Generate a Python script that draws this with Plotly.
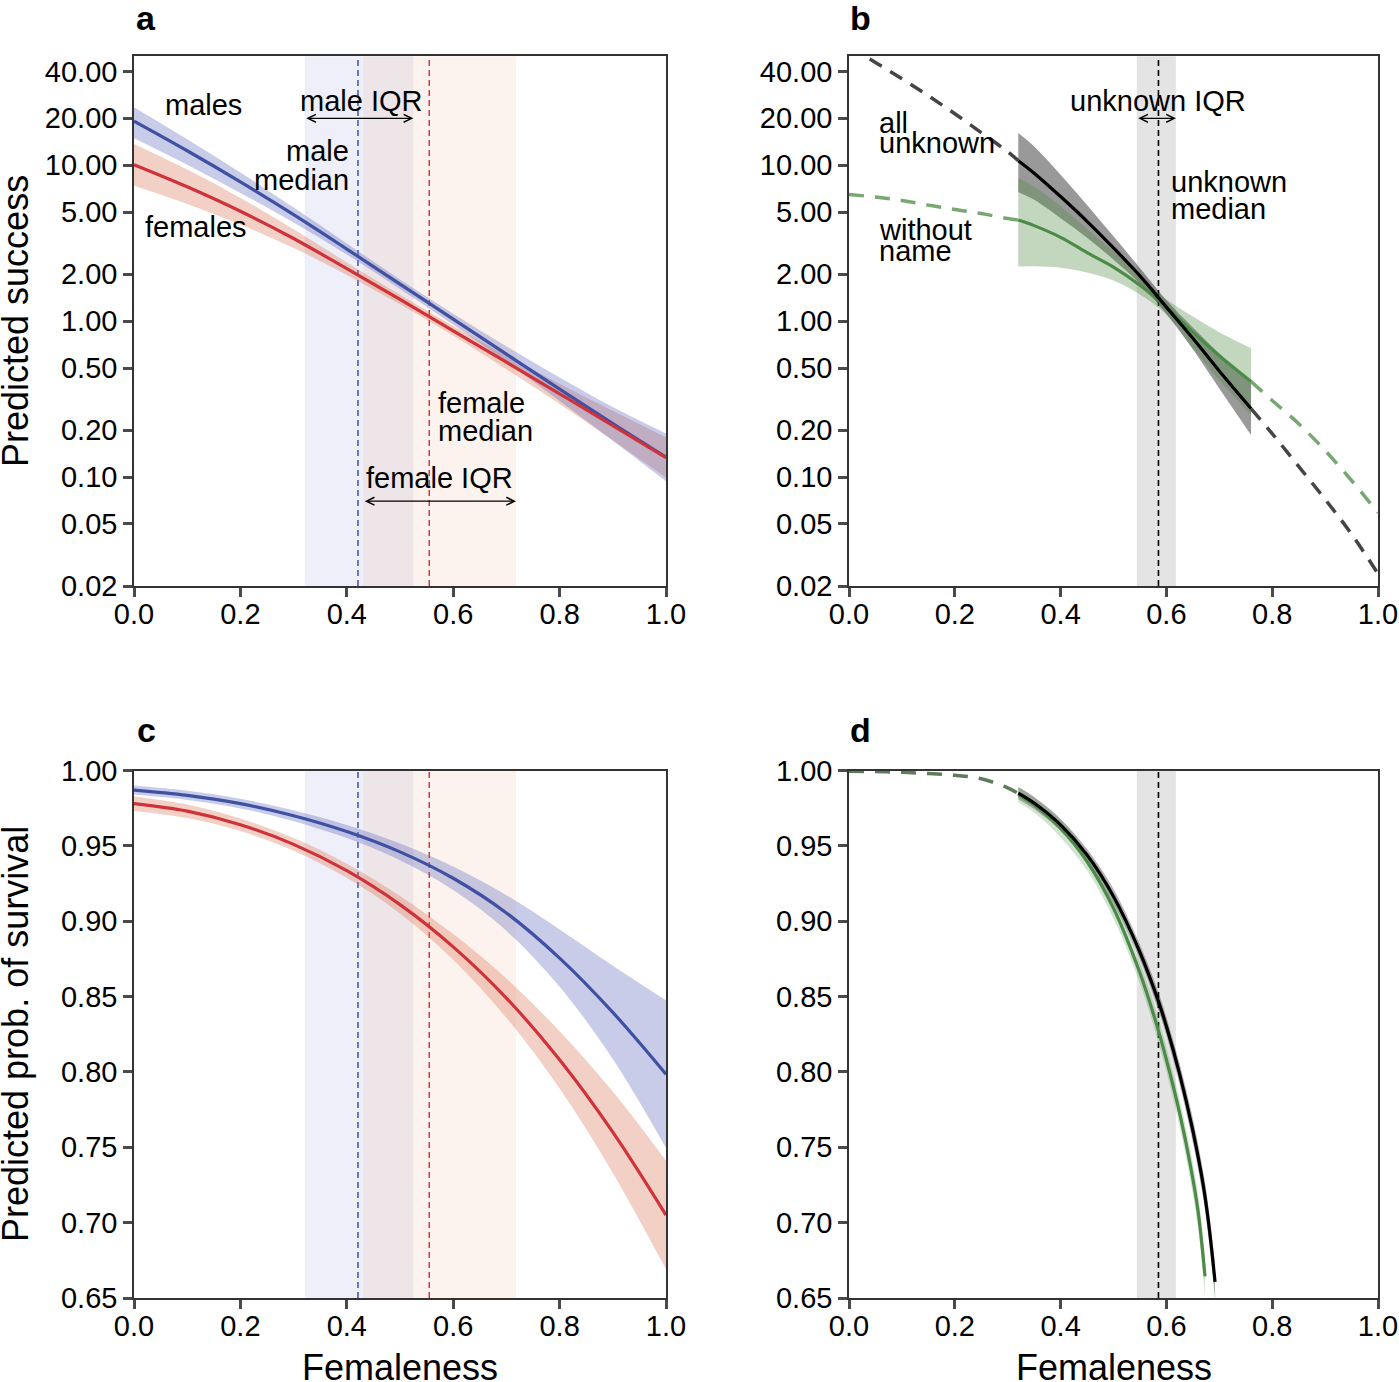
import math
import plotly.graph_objects as go
from plotly.subplots import make_subplots

W, H = 1399, 1382
FONT = "Liberation Sans, Arial, sans-serif"

# ---- panel a: predicted success, males vs females ----
x_a = [0.0, 0.1, 0.2, 0.3, 0.4, 0.5, 0.6, 0.7, 0.8, 0.9, 1.0]
male_succ = [19.19, 12.39, 7.82, 4.82, 2.90, 1.73, 1.03, 0.614, 0.366, 0.220, 0.134]
male_succ_lo = [14.9, 10.07, 6.65, 4.30, 2.68, 1.61, 0.951, 0.547, 0.308, 0.171, 0.094]
male_succ_hi = [23.6, 14.7, 8.97, 5.35, 3.15, 1.85, 1.117, 0.689, 0.435, 0.281, 0.190]
female_succ = [10.09, 7.28, 5.07, 3.39, 2.17, 1.377, 0.867, 0.545, 0.342, 0.214, 0.133]
female_succ_lo = [7.40, 5.65, 4.17, 2.95, 1.98, 1.285, 0.809, 0.491, 0.294, 0.172, 0.0989]
female_succ_hi = [13.7, 9.38, 6.17, 3.89, 2.38, 1.476, 0.929, 0.604, 0.397, 0.266, 0.180]

male_iqr = [0.321, 0.525]
male_median = 0.421
female_iqr = [0.431, 0.718]
female_median = 0.555
unknown_iqr = [0.544, 0.618]
unknown_median = 0.585

# ---- panel b: all unknown vs without name ----
x_b = [0.0, 0.05, 0.10, 0.15, 0.20, 0.25, 0.30, 0.32, 0.35, 0.40, 0.45,
       0.50, 0.55, 0.60, 0.65, 0.70, 0.76, 0.80, 0.85, 0.90, 0.95, 1.00]
unk_succ = [57.5, 45.7, 35.9, 27.9, 21.4, 16.2, 12.2, 10.7, 8.9, 6.3, 4.37,
            2.95, 1.95, 1.23, 0.776, 0.479, 0.275, 0.19, 0.117, 0.072, 0.043, 0.024]
noname_succ = [6.5, 6.25, 5.95, 5.55, 5.2, 4.9, 4.55, 4.45, 4.1, 3.45, 2.75,
               2.22, 1.7, 1.23, 0.85, 0.60, 0.41, 0.31, 0.22, 0.148, 0.095, 0.059]
x_b_obs = [0.32, 0.35, 0.40, 0.45, 0.50, 0.55, 0.60, 0.65, 0.70, 0.76]
unk_succ_hi = [16.1, 13.2, 8.7, 5.57, 3.5, 2.19, 1.36, 0.91, 0.62, 0.41]
unk_succ_lo = [6.7, 6.0, 4.57, 3.43, 2.48, 1.74, 1.11, 0.66, 0.37, 0.186]
noname_succ_hi = [8.3, 7.3, 5.45, 3.9, 2.8, 1.95, 1.38, 1.07, 0.85, 0.67]
noname_succ_lo = [2.24, 2.25, 2.2, 2.05, 1.82, 1.48, 1.10, 0.675, 0.42, 0.25]

# ---- panel c: survival, males vs females ----
x_c = [0.0, 0.1, 0.2, 0.3, 0.4, 0.5, 0.6, 0.7, 0.8, 0.9, 1.0]
male_surv = [0.987, 0.9835, 0.978, 0.970, 0.9595, 0.946, 0.9285, 0.9055, 0.8755, 0.8395, 0.7985]
male_surv_hi = [0.990, 0.9865, 0.9812, 0.9736, 0.9638, 0.9515, 0.9363, 0.9173, 0.8945, 0.8705, 0.8475]
male_surv_lo = [0.984, 0.9805, 0.9748, 0.9664, 0.9552, 0.9405, 0.9207, 0.8937, 0.8565, 0.8085, 0.7495]
female_surv = [0.978, 0.973, 0.964, 0.951, 0.9335, 0.911, 0.883, 0.849, 0.808, 0.760, 0.705]
female_surv_hi = [0.9828, 0.9775, 0.9682, 0.9552, 0.9382, 0.9168, 0.8915, 0.862, 0.827, 0.787, 0.741]
female_surv_lo = [0.9732, 0.9685, 0.9598, 0.9468, 0.9288, 0.9052, 0.8745, 0.836, 0.789, 0.733, 0.669]

# ---- panel d: survival, unknown ----
x_d_dash = [0.0, 0.05, 0.1, 0.15, 0.2, 0.25, 0.3, 0.32]
d_dash = [0.9995, 0.9993, 0.9988, 0.998, 0.9968, 0.9945, 0.9885, 0.9848]
x_d_unk = [0.32, 0.35, 0.40, 0.45, 0.50, 0.55, 0.585, 0.60, 0.625, 0.65, 0.67, 0.68, 0.692]
unk_surv = [0.985, 0.9784, 0.9639, 0.9439, 0.9164, 0.8794, 0.8468, 0.8303, 0.7986, 0.7611,
            0.7241, 0.6991, 0.6607]
unk_surv_hi = [0.989, 0.9824, 0.9679, 0.9479, 0.9214, 0.8844, 0.8528, 0.8363, 0.8056, 0.7691,
               0.7331, 0.7091, 0.6727]
unk_surv_lo = [0.981, 0.9744, 0.9599, 0.9399, 0.9114, 0.8744, 0.8408, 0.8243, 0.7916, 0.7531,
               0.7151, 0.6891, 0.6487]
x_d_non = [0.32, 0.35, 0.40, 0.45, 0.50, 0.55, 0.58, 0.60, 0.625, 0.645, 0.66, 0.673]
non_surv = [0.984, 0.9771, 0.9616, 0.9396, 0.9086, 0.8656, 0.8332, 0.8082, 0.7727, 0.7387,
            0.7072, 0.6643]
non_surv_hi = [0.989, 0.9821, 0.9676, 0.9456, 0.9156, 0.8726, 0.8412, 0.8162, 0.7817, 0.7487,
               0.7182, 0.6773]
non_surv_lo = [0.979, 0.9721, 0.9556, 0.9336, 0.9016, 0.8586, 0.8252, 0.8002, 0.7637, 0.7287,
               0.6962, 0.6513]

x_ticks = [0.0, 0.2, 0.4, 0.6, 0.8, 1.0]
succ_ticks = [0.02, 0.05, 0.1, 0.2, 0.5, 1, 2, 5, 10, 20, 40]
surv_ticks = [0.65, 0.70, 0.75, 0.80, 0.85, 0.90, 0.95, 1.00]

BLUE = "#3f51a3"
RED = "#d0323a"
GREEN = "#4b8b47"
GREEN_D = "#77a872"
BLUE_BAND = "rgba(100,110,190,0.35)"
RED_BAND = "rgba(220,120,90,0.35)"
GREY_BAND = "rgba(0,0,0,0.4)"
GREEN_BAND = "rgba(80,140,70,0.35)"

fig = make_subplots(rows=2, cols=2)


def band(x, lo, hi, color, row, col):
    fig.add_trace(go.Scatter(x=x, y=lo, mode="lines", line=dict(width=0, shape="spline"),
                             hoverinfo="skip"), row=row, col=col)
    fig.add_trace(go.Scatter(x=x, y=hi, mode="lines", line=dict(width=0, shape="spline"),
                             fill="tonexty", fillcolor=color, hoverinfo="skip"),
                  row=row, col=col)


def curve(x, y, color, row, col, width=3.2, dash=None):
    fig.add_trace(go.Scatter(x=x, y=y, mode="lines",
                             line=dict(color=color, width=width, dash=dash, shape="spline")),
                  row=row, col=col)


# panel a
band(x_a, female_succ_lo, female_succ_hi, RED_BAND, 1, 1)
band(x_a, male_succ_lo, male_succ_hi, BLUE_BAND, 1, 1)
curve(x_a, male_succ, BLUE, 1, 1)
curve(x_a, female_succ, RED, 1, 1)

# panel b
i0, i1 = x_b.index(0.32), x_b.index(0.76)
band(x_b_obs, unk_succ_lo, unk_succ_hi, GREY_BAND, 1, 2)
band(x_b_obs, noname_succ_lo, noname_succ_hi, GREEN_BAND, 1, 2)
curve(x_b[:i0 + 1], unk_succ[:i0 + 1], "#454545", 1, 2, 3.5, "14px,10px")
curve(x_b[i1:], unk_succ[i1:], "#454545", 1, 2, 3.5, "14px,10px")
curve(x_b[:i0 + 1], noname_succ[:i0 + 1], GREEN_D, 1, 2, 3.5, "15px,11px")
curve(x_b[i1:], noname_succ[i1:], GREEN_D, 1, 2, 3.5, "15px,11px")
curve(x_b[i0:i1 + 1], noname_succ[i0:i1 + 1], GREEN, 1, 2)
curve(x_b[i0:i1 + 1], unk_succ[i0:i1 + 1], "#000000", 1, 2)

# panel c
band(x_c, female_surv_lo, female_surv_hi, RED_BAND, 2, 1)
band(x_c, male_surv_lo, male_surv_hi, BLUE_BAND, 2, 1)
curve(x_c, male_surv, BLUE, 2, 1)
curve(x_c, female_surv, RED, 2, 1)

# panel d
band(x_d_unk, unk_surv_lo, unk_surv_hi, "rgba(0,0,0,0.3)", 2, 2)
band(x_d_non, non_surv_lo, non_surv_hi, "rgba(80,140,70,0.25)", 2, 2)
curve(x_d_dash, d_dash, "#5d7c5c", 2, 2, 3.5, "15px,11px")
curve(x_d_non, non_surv, GREEN, 2, 2)
curve(x_d_unk, unk_surv, "#000000", 2, 2)

# IQR shading and medians
for r in (1, 2):
    fig.add_vrect(x0=male_iqr[0], x1=male_iqr[1], fillcolor="rgba(100,110,190,0.11)",
                  line_width=0, layer="below", row=r, col=1)
    fig.add_vrect(x0=female_iqr[0], x1=female_iqr[1], fillcolor="rgba(235,165,120,0.13)",
                  line_width=0, layer="below", row=r, col=1)
    fig.add_vline(x=male_median, line=dict(color="#3f51b5", width=1.5, dash="6px,4px"),
                  layer="below", row=r, col=1)
    fig.add_vline(x=female_median, line=dict(color="#d9363e", width=1.5, dash="6px,4px"),
                  layer="below", row=r, col=1)
    fig.add_vrect(x0=unknown_iqr[0], x1=unknown_iqr[1], fillcolor="rgba(0,0,0,0.105)",
                  line_width=0, layer="below", row=r, col=2)
    fig.add_vline(x=unknown_median, line=dict(color="#000000", width=1.6, dash="6px,4px"),
                  layer="below", row=r, col=2)

axis_common = dict(showgrid=False, zeroline=False, showline=True, mirror=True,
                   linecolor="#333333", linewidth=1.5, ticks="outside", ticklen=9,
                   tickwidth=2.6, tickcolor="#4a4a4a",
                   tickfont=dict(family=FONT, size=29, color="#000000"))

dom_x = {1: [134 / W, 666 / W], 2: [849 / W, 1378 / W]}
dom_y = {1: [1 - 586 / H, 1 - 56.3 / H], 2: [1 - 1298 / H, 1 - 770.5 / H]}

for r in (1, 2):
    for c in (1, 2):
        fig.update_xaxes(range=[0, 1], tickvals=x_ticks,
                         ticktext=[f"{v:.1f}" for v in x_ticks], ticklabelstandoff=-8,
                         domain=dom_x[c], row=r, col=c, **axis_common)
        if r == 1:
            fig.update_yaxes(type="log", range=[math.log10(0.02), math.log10(50)],
                             tickvals=succ_ticks, ticktext=[f"{v:.2f}" for v in succ_ticks],
                             domain=dom_y[r], row=r, col=c, **axis_common)
        else:
            fig.update_yaxes(range=[0.65, 1.0], tickvals=surv_ticks,
                             ticktext=[f"{v:.2f}" for v in surv_ticks],
                             domain=dom_y[r], row=r, col=c, **axis_common)

ann = []


def text(s, x, y, xref, yref, xanchor="left", size=29):
    ann.append(dict(text=s, x=x, y=y, xref=xref, yref=yref, xanchor=xanchor,
                    yanchor="middle", showarrow=False,
                    font=dict(family=FONT, size=size, color="#000000")))


def arrow(x0, x1, y, xref, yref):
    ann.append(dict(text="", x=x1, y=y, ax=x0, ay=y, xref=xref, yref=yref,
                    axref=xref, ayref=yref, showarrow=True, arrowhead=5,
                    startarrowhead=5, arrowside="end+start", arrowwidth=1.3,
                    arrowsize=1.2, startarrowsize=1.2, arrowcolor="#000000",
                    standoff=0, startstandoff=0))


# panel a labels (log axis: y in log10)
text("males", 0.055, 1.387, "x", "y")
text("male IQR", 0.4265, 1.415, "x", "y", "center")
text("male", 0.408, 1.089, "x", "y", "right")
text("median", 0.408, 0.904, "x", "y", "right")
text("females", 0.0165, 0.604, "x", "y")
text("female", 0.5677, -0.525, "x", "y")
text("median", 0.5677, -0.703, "x", "y")
text("female IQR", 0.575, -1.005, "x", "y", "center")
arrow(male_iqr[0], male_iqr[1], math.log10(20), "x", "y")
arrow(female_iqr[0], female_iqr[1], math.log10(0.07), "x", "y")

# panel b labels
text("all", 0.0524, 1.271, "x2", "y2")
text("unknown", 0.0524, 1.142, "x2", "y2")
text("without", 0.0524, 0.582, "x2", "y2")
text("name", 0.0524, 0.449, "x2", "y2")
text("unknown IQR", 0.584, 1.415, "x2", "y2", "center")
text("unknown", 0.6055, 0.895, "x2", "y2")
text("median", 0.6055, 0.717, "x2", "y2")
arrow(unknown_iqr[0], unknown_iqr[1], math.log10(20), "x2", "y2")

# panel letters
for s, px, py in (("a", 146, 18), ("b", 860, 18), ("c", 146, 730), ("d", 860, 730)):
    text(f"<b>{s}</b>", px / W, 1 - py / H, "paper", "paper", "center", 34)

# axis titles
ann.append(dict(text="Predicted success", x=15 / W, y=1 - 321 / H, xref="paper",
                yref="paper", textangle=-90, showarrow=False, xanchor="center",
                yanchor="middle", font=dict(family=FONT, size=36, color="#000000")))
ann.append(dict(text="Predicted prob. of survival", x=15 / W, y=1 - 1034 / H, xref="paper",
                yref="paper", textangle=-90, showarrow=False, xanchor="center",
                yanchor="middle", font=dict(family=FONT, size=36, color="#000000")))
for cx in (400, 1114):
    text("Femaleness", cx / W, 1 - 1367.5 / H, "paper", "paper", "center", 36)

fig.update_layout(width=W, height=H, autosize=False, showlegend=False,
                  margin=dict(l=0, r=0, t=0, b=0, autoexpand=False),
                  paper_bgcolor="white", plot_bgcolor="white",
                  font=dict(family=FONT, size=29, color="#000000"),
                  annotations=list(fig.layout.annotations) + ann)

fig.write_html("out.html", config={"displayModeBar": False},
               post_script="document.body.style.margin='0';")
